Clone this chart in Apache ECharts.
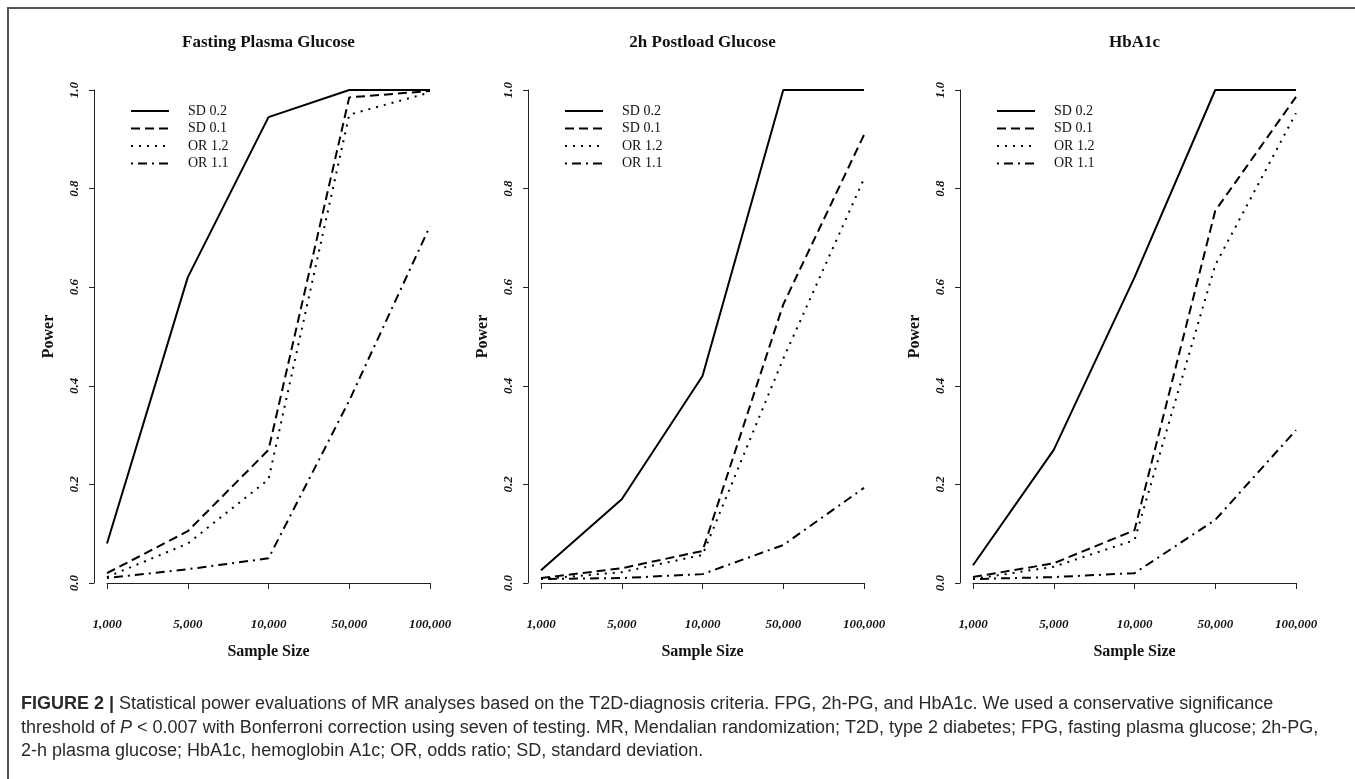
<!DOCTYPE html>
<html>
<head>
<meta charset="utf-8">
<script src="https://cdn.jsdelivr.net/npm/echarts@6/dist/echarts.min.js"></script>
<style>
  html, body { margin: 0; padding: 0; background: #fff; }
  #main { width: 1355px; height: 779px; }
</style>
</head>
<body>
<div id="main"></div>
<script>
// data
var sampleSizes = ['1,000', '5,000', '10,000', '50,000', '100,000'];
var seriesNames = ['SD 0.2', 'SD 0.1', 'OR 1.2', 'OR 1.1'];
var panelTitles = ['Fasting Plasma Glucose', '2h Postload Glucose', 'HbA1c'];

// Fasting plasma glucose
var fpgSD02 = [0.08, 0.62, 0.945, 1.0, 1.0];
var fpgSD01 = [0.02, 0.105, 0.27, 0.985, 0.998];
var fpgOR12 = [0.012, 0.08, 0.21, 0.95, 0.995];
var fpgOR11 = [0.01, 0.028, 0.05, 0.37, 0.724];

// 2h postload glucose
var pgSD02 = [0.026, 0.17, 0.42, 1.0, 1.0];
var pgSD01 = [0.01, 0.03, 0.065, 0.565, 0.909];
var pgOR12 = [0.008, 0.022, 0.057, 0.455, 0.82];
var pgOR11 = [0.008, 0.01, 0.018, 0.077, 0.193];

// HbA1c
var hbSD02 = [0.036, 0.27, 0.62, 1.0, 1.0];
var hbSD01 = [0.012, 0.04, 0.107, 0.755, 0.986];
var hbOR12 = [0.008, 0.033, 0.087, 0.645, 0.953];
var hbOR11 = [0.008, 0.012, 0.02, 0.128, 0.31];

var panelData = [
  [fpgSD02, fpgSD01, fpgOR12, fpgOR11],
  [pgSD02, pgSD01, pgOR12, pgOR11],
  [hbSD02, hbSD01, hbOR12, hbOR11]
];

var serif = '"Liberation Serif", "DejaVu Serif", serif';
var dashTypes = ['solid', [9, 5], [2, 6], [2, 5, 9, 5]];
var gridLeft = [107, 541, 973];
var gridWidth = 323;

var chart = echarts.init(document.getElementById('main'));

var grids = [], xAxes = [], yAxes = [], titles = [], legends = [], series = [];
for (var p = 0; p < 3; p++) {
  grids.push({ left: gridLeft[p], width: gridWidth, top: 90, height: 493 });
  titles.push({
    text: panelTitles[p],
    left: gridLeft[p] + gridWidth / 2,
    top: 34,
    padding: 0,
    textAlign: 'center',
    textStyle: { fontFamily: serif, fontWeight: 'bold', fontSize: 17, color: '#111' }
  });
  xAxes.push({
    gridIndex: p,
    type: 'category',
    data: sampleSizes,
    boundaryGap: false,
    offset: 20,
    name: 'Sample Size',
    nameLocation: 'middle',
    nameGap: 41,
    nameTextStyle: { fontFamily: serif, fontWeight: 'bold', fontSize: 16, color: '#111' },
    axisLine: { lineStyle: { color: '#222', width: 1 } },
    axisTick: { length: 6, lineStyle: { color: '#222' } },
    axisLabel: { margin: 15, fontFamily: serif, fontWeight: 'bold', fontStyle: 'italic', fontSize: 13, color: '#111' },
    splitLine: { show: false }
  });
  yAxes.push({
    gridIndex: p,
    type: 'value',
    min: 0,
    max: 1,
    interval: 0.2,
    offset: 13,
    name: 'Power',
    nameLocation: 'middle',
    nameGap: 37,
    nameTextStyle: { fontFamily: serif, fontWeight: 'bold', fontSize: 16, color: '#111' },
    axisLine: { show: true, lineStyle: { color: '#222', width: 1 } },
    axisTick: { show: true, length: 5, lineStyle: { color: '#222' } },
    axisLabel: {
      rotate: 90, margin: 13,
      fontFamily: serif, fontWeight: 'bold', fontStyle: 'italic', fontSize: 13, color: '#111',
      formatter: function (v) { return v.toFixed(1); }
    },
    splitLine: { show: false }
  });
  legends.push({
    data: seriesNames,
    orient: 'vertical',
    left: gridLeft[p] + 23,
    top: 104,
    padding: 0,
    itemWidth: 38,
    itemHeight: 14,
    itemGap: 3.5,
    selectedMode: false,
    // line icon only, hide the default symbol on it
    itemStyle: { color: 'rgba(0,0,0,0)', borderColor: 'rgba(0,0,0,0)', borderWidth: 0, opacity: 0 },
    textStyle: { fontFamily: serif, fontSize: 14, color: '#111', padding: [0, 0, 0, 14] }
  });
  for (var s = 0; s < 4; s++) {
    series.push({
      name: seriesNames[s],
      type: 'line',
      xAxisIndex: p,
      yAxisIndex: p,
      data: panelData[p][s],
      symbol: 'none',
      silent: true,
      lineStyle: { color: '#000', width: 2, type: dashTypes[s] },
      itemStyle: { color: '#000' }
    });
  }
}

var captionFont = '"Liberation Sans", Arial, sans-serif';
option = {
  animation: false,
  backgroundColor: '#fff',
  title: titles,
  legend: legends,
  grid: grids,
  xAxis: xAxes,
  yAxis: yAxes,
  series: series,
  graphic: [
    {
      type: 'rect',
      shape: { x: 8, y: 8, width: 1400, height: 900 },
      style: { fill: 'none', stroke: '#555', lineWidth: 2 },
      silent: true
    },
    {
      type: 'text', left: 21, top: 695,
      style: {
        text: '{b|FIGURE 2 |} Statistical power evaluations of MR analyses based on the T2D-diagnosis criteria. FPG, 2h-PG, and HbA1c. We used a conservative significance',
        font: '18px ' + captionFont, fill: '#2a2a2a',
        rich: { b: { fontWeight: 'bold', fontSize: 18, fontFamily: captionFont, fill: '#2a2a2a' } }
      }
    },
    {
      type: 'text', left: 21, top: 719,
      style: {
        text: 'threshold of {i|P} < 0.007 with Bonferroni correction using seven of testing. MR, Mendalian randomization; T2D, type 2 diabetes; FPG, fasting plasma glucose; 2h-PG,',
        font: '18px ' + captionFont, fill: '#2a2a2a',
        rich: { i: { fontStyle: 'italic', fontSize: 18, fontFamily: captionFont, fill: '#2a2a2a' } }
      }
    },
    {
      type: 'text', left: 21, top: 742,
      style: {
        text: '2-h plasma glucose; HbA1c, hemoglobin A1c; OR, odds ratio; SD, standard deviation.',
        font: '18px ' + captionFont, fill: '#2a2a2a'
      }
    }
  ]
};
chart.setOption(option);
</script>
</body>
</html>
